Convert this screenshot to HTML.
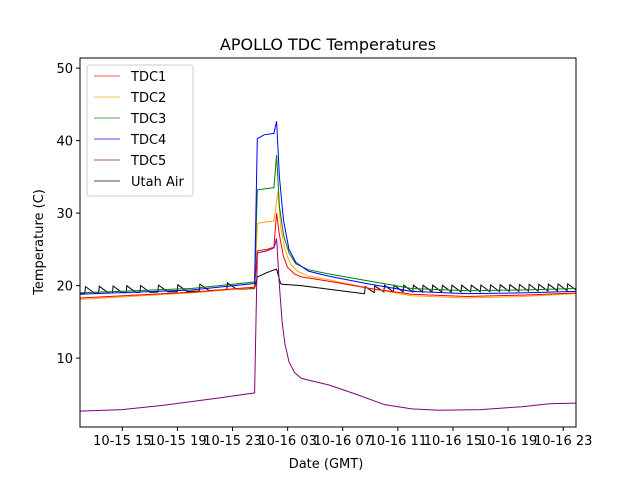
<!DOCTYPE html>
<html><head><meta charset="utf-8"><style>
body{margin:0;background:#fff;}
svg{display:block;font-family:"DejaVu Sans","Liberation Sans",sans-serif;}
</style></head><body>
<svg id="chart" width="640" height="480">
<rect width="640" height="480" fill="#fff"/>
<text x="328" y="50" text-anchor="middle" font-size="16">APOLLO TDC Temperatures</text>
<g id="series"></g>
<g id="axes"></g>
<text x="326" y="468" text-anchor="middle" font-size="13">Date (GMT)</text>
<text transform="translate(43,242) rotate(-90)" text-anchor="middle" font-size="13">Temperature (C)</text>
<g id="legend"></g>
</svg>
<script>
// hours since 10-15 00:00 GMT
const xTickHours=[15,19,23,27,31,35,39,43,47];
const xTickLabels=["10-15 15","10-15 19","10-15 23","10-16 03","10-16 07","10-16 11","10-16 15","10-16 19","10-16 23"];
const yTicks=[10,20,30,40,50];
const seriesNames=["TDC1","TDC2","TDC3","TDC4","TDC5","Utah Air"];
const seriesColors=["red","orange","green","blue","purple","black"];
const tdc1=[[11.9,18.3],[20,19.1],[24.6,19.8],[24.8,24.8],[25.5,25.0],[26.0,25.3],[26.2,30.0],[26.4,27],[26.7,24],[27,22.5],[27.5,21.6],[28,21.2],[30,20.6],[33,19.6],[36,18.8],[40,18.5],[44,18.7],[48,19.0]];
const tdc2=[[11.9,18.1],[20,19.0],[24.6,19.7],[24.8,28.6],[25.5,28.8],[26.0,28.9],[26.3,33.0],[26.5,28],[26.8,25],[27.2,23],[27.7,22],[28.5,21.3],[30,20.8],[33,19.6],[36,18.6],[40,18.3],[44,18.5],[48,18.9]];
const tdc3=[[11.9,19.0],[20,19.6],[24.6,20.5],[24.8,33.2],[25.5,33.4],[26.0,33.5],[26.2,38.0],[26.4,31],[26.7,27],[27.1,24.5],[27.6,23],[28.5,22.2],[30,21.6],[33,20.6],[36,19.6],[40,19.3],[44,19.4],[48,19.6]];
const tdc4=[[11.9,18.8],[20,19.4],[24.6,20.3],[24.8,40.3],[25.3,40.8],[26.0,41.0],[26.2,42.7],[26.4,35],[26.7,29],[27.1,25],[27.6,23.2],[28.5,22],[30,21.3],[33,20.2],[36,19.2],[40,18.9],[44,19.0],[48,19.2]];
const tdc5=[[11.9,2.7],[15,2.9],[18,3.5],[22,4.5],[24.6,5.2],[24.8,24.5],[25.5,24.8],[26.0,25.2],[26.2,26.5],[26.4,20],[26.6,15],[26.8,12],[27.1,9.5],[27.5,8.0],[28,7.2],[30,6.3],[32,5.0],[34,3.6],[36,3.0],[38,2.8],[41,2.9],[44,3.3],[46,3.7],[48,3.8]];
const airBase=[[11.9,18.9],[20,19.2],[24.6,19.6],[24.8,21.2],[25.5,21.8],[26.2,22.3],[26.5,20.2],[28,20.0],[30,19.5],[32.5,18.9],[34,19.1],[40,19.1],[48,19.3]];
const airTeeth=[12.3,13.3,14.3,15.3,16.3,17.6,19.0,20.6,22.6,32.6,33.3,34.0,34.7,35.4,36.1,36.8,37.5,38.2,38.9,39.6,40.3,41.0,41.7,42.4,43.1,43.8,44.5,45.2,45.9,46.6,47.3];
const toothAmp=1.0;

const L=80,T=58,W=496,H=369,h0=11.93,h1=47.93,t0=0.5,t1=51.4;
const X=h=>L+(h-h0)/(h1-h0)*W;
const Y=v=>T+H-(v-t0)/(t1-t0)*H;
const NS="http://www.w3.org/2000/svg";
function mk(tag,attrs,parent){const e=document.createElementNS(NS,tag);for(const k in attrs)e.setAttribute(k,attrs[k]);parent.appendChild(e);return e;}
const sg=document.getElementById('series');
const clip=mk('clipPath',{id:'cp'},sg);mk('rect',{x:L,y:T,width:W,height:H},clip);
function interp(arr,h){for(let i=1;i<arr.length;i++){if(h<=arr[i][0]){const a=arr[i-1],b=arr[i];return a[1]+(b[1]-a[1])*(h-a[0])/(b[0]-a[0]);}}return arr[arr.length-1][1];}
function drawLine(pts,color,name){
  const p=mk('polyline',{points:pts.map(q=>X(q[0]).toFixed(1)+','+Y(q[1]).toFixed(1)).join(' '),fill:'none',stroke:color,'stroke-width':1,'clip-path':'url(#cp)'},sg);
  
  
}
const airPts=[];
for(let h=h0;h<=h1;h+=0.05){
  let v=interp(airBase,h);
  for(const t of airTeeth){if(h>=t&&h<t+0.7){v+=toothAmp*(1-(h-t)/0.7);}}
  airPts.push([h,v]);
}
drawLine(airPts,'black','series-utah-air');
drawLine(tdc2,'orange','series-tdc2');
drawLine(tdc1,'red','series-tdc1');
drawLine(tdc3,'green','series-tdc3');
drawLine(tdc4,'blue','series-tdc4');
drawLine(tdc5,'purple','series-tdc5');

const ax=document.getElementById('axes');
const fr=mk('rect',{x:L,y:T,width:W,height:H,fill:'none',stroke:'black','stroke-width':1},ax);


xTickHours.forEach((h,i)=>{
  const x=X(h);
  mk('line',{x1:x,x2:x,y1:T+H,y2:T+H+4,stroke:'black'},ax);
  const t=mk('text',{x:x,y:T+H+18,'text-anchor':'middle','font-size':13},ax);
  t.textContent=xTickLabels[i];
  
  
});
yTicks.forEach(v=>{
  const y=Y(v);
  mk('line',{x1:L-4,x2:L,y1:y,y2:y,stroke:'black'},ax);
  const t=mk('text',{x:L-7,y:y+5,'text-anchor':'end','font-size':13},ax);
  t.textContent=v;
  
  
});
const lg=document.getElementById('legend');
const box=mk('rect',{x:87,y:65,width:106,height:131,rx:3,fill:'#fff',stroke:'#ccc'},lg);


seriesNames.forEach((n,i)=>{
  const y=76+i*21;
  mk('line',{x1:94,x2:120,y1:y,y2:y,stroke:seriesColors[i],'stroke-width':1,'stroke-opacity':0.7},lg);
  const t=mk('text',{x:131,y:y+5,'font-size':13},lg);
  t.textContent=n;
  
  
});
</script>
</body></html>
